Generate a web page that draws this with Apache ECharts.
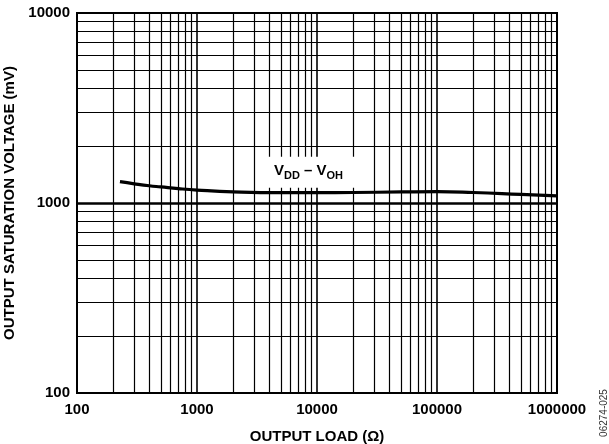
<!DOCTYPE html>
<html>
<head>
<meta charset="utf-8">
<script src="https://cdn.jsdelivr.net/npm/echarts@6/dist/echarts.min.js"></script>
<style>html,body{margin:0;padding:0;background:#fff;}#c{width:609px;height:444px;}</style>
</head>
<body>
<div id="c"></div>
<script>
// Data
const loadOhms = [228, 300, 400, 500, 700, 1000, 2000, 5000, 10000, 20000, 50000, 100000, 200000, 500000, 1000000];
const vddMinusVoh = [1295, 1262, 1232, 1215, 1190, 1170, 1145, 1133, 1133, 1136, 1143, 1147, 1136, 1110, 1090];
const xDecades = [100, 1000, 10000, 100000, 1000000];
const yDecades = [100, 1000, 10000];
const minorMultipliers = [2, 3, 4, 5, 6, 7, 8, 9];
const labelAt = [8500, 1450];

const FONT = '"Liberation Sans", Arial, sans-serif';

const vLines = [];
for (let i = 0; i < xDecades.length - 1; i++) {
  minorMultipliers.forEach(m => vLines.push({ xAxis: xDecades[i] * m, lineStyle: { width: 1.2 } }));
  if (i > 0) vLines.push({ xAxis: xDecades[i], lineStyle: { width: 1.6 } });
}
const hLines = [];
for (let i = 0; i < yDecades.length - 1; i++) {
  minorMultipliers.forEach(m => hLines.push({ yAxis: yDecades[i] * m, lineStyle: { width: 1.2 } }));
  if (i > 0) hLines.push({ yAxis: yDecades[i], lineStyle: { width: 2.6 } });
}

const chart = echarts.init(document.getElementById('c'), null, { renderer: 'canvas' });
chart.setOption({
  animation: false,
  backgroundColor: '#fff',
  grid: { left: 77, right: 52, top: 13, bottom: 51, containLabel: false, outerBoundsMode: 'none',
    show: true, borderColor: '#000', borderWidth: 2, backgroundColor: 'transparent' },
  xAxis: {
    type: 'log', logBase: 10, min: 100, max: 1000000,
    name: 'OUTPUT LOAD (Ω)', nameLocation: 'middle', nameGap: 36,
    nameTextStyle: { fontFamily: FONT, fontWeight: 'bold', fontSize: 15, color: '#000' },
    axisLine: { show: true, lineStyle: { color: '#000', width: 2 } },
    axisTick: { show: false },
    splitLine: { show: false },
    axisLabel: { fontFamily: FONT, fontWeight: 'bold', fontSize: 15, color: '#000', margin: 9,
      formatter: v => String(Math.round(v)) }
  },
  yAxis: {
    type: 'log', logBase: 10, min: 100, max: 10000,
    name: 'OUTPUT SATURATION VOLTAGE (mV)', nameLocation: 'middle', nameGap: 58,
    nameTextStyle: { fontFamily: FONT, fontWeight: 'bold', fontSize: 15, color: '#000' },
    axisLine: { show: true, lineStyle: { color: '#000', width: 2 } },
    axisTick: { show: false },
    splitLine: { show: false },
    axisLabel: { fontFamily: FONT, fontWeight: 'bold', fontSize: 15, color: '#000', margin: 7,
      formatter: v => String(Math.round(v)) }
  },
  series: [
    {
      type: 'line', data: [], z: 1, silent: true,
      markLine: {
        silent: true, symbol: 'none', animation: false,
        label: { show: false },
        lineStyle: { color: '#000', type: 'solid', width: 1.2 },
        data: vLines.concat(hLines)
      }
    },
    {
      type: 'line', z: 5, smooth: true, showSymbol: false, symbol: 'none',
      lineStyle: { color: '#000', width: 3.2 },
      data: loadOhms.map((x, i) => [x, vddMinusVoh[i]]),
      markPoint: {
        silent: true, symbol: 'rect', symbolSize: 0, z: 6,
        data: [{ coord: labelAt }],
        label: {
          show: true, position: 'inside',
          backgroundColor: '#fff', padding: [7, 13, 6, 13],
          formatter: '{v|V}{s|DD}{v| – V}{s|OH}',
          rich: {
            v: { fontFamily: FONT, fontWeight: 'bold', fontSize: 15, color: '#000', lineHeight: 16, verticalAlign: 'top' },
            s: { fontFamily: FONT, fontWeight: 'bold', fontSize: 11, color: '#000', lineHeight: 18, verticalAlign: 'bottom' }
          }
        }
      }
    }
  ],
  graphic: [{
    type: 'text', x: 604, y: 413, rotation: Math.PI / 2,
    style: { text: '06274-025', fontFamily: FONT, fontSize: 10, fill: '#333', align: 'center', verticalAlign: 'middle' }
  }]
});
</script>
</body>
</html>
